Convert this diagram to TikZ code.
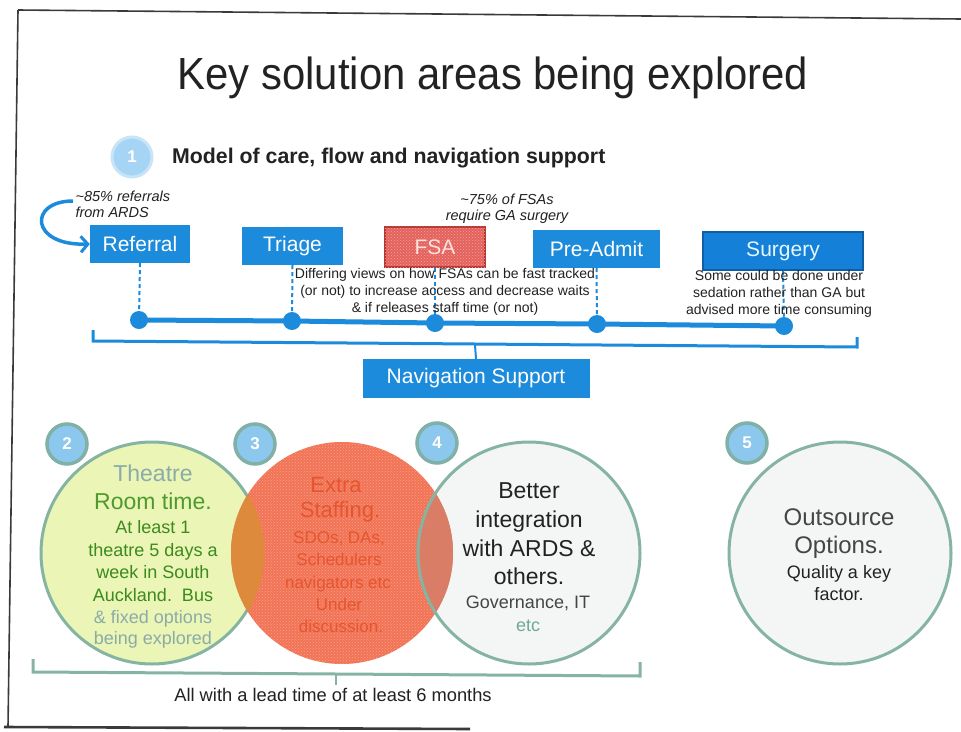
\documentclass[tikz,border=0pt]{standalone}
\usepackage{fontspec}
\setmainfont{Liberation Sans}
\usetikzlibrary{arrows.meta,patterns}

\definecolor{boxblue}{HTML}{1D8BDB}
\definecolor{surgblue}{HTML}{1580D8}
\definecolor{surgrim}{HTML}{0F5EA6}
\definecolor{fsafill}{HTML}{E4625E}
\definecolor{fsarim}{HTML}{B2332E}
\definecolor{fsadots}{HTML}{F3A19A}
\definecolor{fsatext}{HTML}{FDE2DE}
\definecolor{badgeblue}{HTML}{8CC7EE}
\definecolor{badgerim}{HTML}{80B0A6}
\definecolor{onefill}{HTML}{A6D4F4}
\definecolor{onerim}{HTML}{C8E4F7}
\definecolor{rimgreen}{HTML}{86B4A2}
\definecolor{greenfill}{HTML}{EAF5B6}
\definecolor{redfill}{HTML}{F27456}
\definecolor{reddots}{HTML}{F7A08A}
\definecolor{redtext}{HTML}{E5552F}
\definecolor{lensorange}{HTML}{DE8A3C}
\definecolor{lensred}{HTML}{DA7D66}
\definecolor{grayfill}{HTML}{F3F6F4}
\definecolor{tealtext}{HTML}{8AABA8}
\definecolor{roomgreen}{HTML}{4E9A2E}
\definecolor{darkgreen}{HTML}{3D8A1E}
\definecolor{etcteal}{HTML}{6DAA98}
\definecolor{framegray}{HTML}{3A3A3A}
\definecolor{textdark}{HTML}{222222}
\definecolor{textgray}{HTML}{454545}

\newcommand{\fsz}[2]{\fontsize{#1}{#2}\selectfont}

\begin{document}
\begin{tikzpicture}[x=1pt,y=-1pt,
  frameline/.style={draw=framegray, line width=1.6pt},
  bluebox/.style={fill=boxblue, text=white, minimum height=38pt, inner sep=0pt, font=\fsz{21}{25}},
  tldot/.style={circle, fill=boxblue, minimum size=18pt, inner sep=0pt},
  timeline/.style={draw=boxblue, line width=5pt},
  dashlink/.style={draw=boxblue, line width=2pt, dashed, dash pattern=on 4pt off 3pt},
  bracketblue/.style={draw=boxblue, line width=3pt},
  bracketgreen/.style={draw=rimgreen, line width=3pt},
  badge/.style={circle, fill=badgeblue, draw=badgerim, line width=3.5pt, minimum size=40pt, inner sep=0pt, text=white, font=\bfseries\fsz{17}{20}},
  bigcirc/.style={circle, minimum size=222pt, inner sep=0pt, line width=3pt},
  note/.style={align=center, font=\fsz{14}{17}, text=textdark},
  inote/.style={align=left, font=\itshape\fsz{14.5}{16}, text=textdark},
  txtline/.style={anchor=base, inner sep=0pt}
]
\useasboundingbox (0,0) rectangle (961,731);
\fill[white] (0,0) rectangle (961,731);

% page frame
\coordinate (fTL) at (18,10);
\coordinate (fTR) at (961,19);
\coordinate (fBL) at (8,727);
\coordinate (fB1) at (4,727);
\coordinate (fB2) at (470,729);
\draw[frameline] (fTL) -- (fTR);
\draw[frameline] (fTL) -- (fBL);
\draw[draw=framegray, line width=2.6pt] (fB1) -- (fB2);

% headings
\node[anchor=base, inner sep=0pt, font=\fsz{45}{50}, text=textdark] (title) at (493,89) {\scalebox{0.93}[1]{Key solution areas being explored}};
\node[badge, fill=onefill, draw=onerim, line width=3pt] (b1) at (132,157) {1};
\node[anchor=base west, inner sep=0pt, font=\bfseries\fsz{21.3}{25}, text=textdark] (model) at (172,163) {Model of care, flow and navigation support};

% pathway boxes
\node[bluebox, minimum width=100pt] (referral) at (140,244) {Referral};
\node[bluebox, minimum width=101pt] (triage) at (292.5,246) {Triage};
\node[minimum width=100pt, minimum height=40pt, inner sep=0pt, fill=fsafill, draw=fsarim, line width=1.5pt] (fsa) at (435,247) {};
\fill[pattern=crosshatch dots, pattern color=fsadots] (fsa.south west) rectangle (fsa.north east);
\node[text=fsatext, font=\fsz{21}{25}] (fsalabel) at (fsa.center) {FSA};
\node[bluebox, minimum width=127pt] (preadmit) at (596.5,249) {Pre-Admit};
\node[bluebox, minimum width=160pt, fill=surgblue, draw=surgrim, line width=1.5pt, text=white!90!cyan] (surgery) at (783,251) {Surgery};

% referral source arrow
\node[inote, anchor=west] (ards) at (72,204) {\textasciitilde85\% referrals\\from ARDS};
\coordinate (ardsStart) at (73,201);
\draw[draw=boxblue, line width=3.5pt, -{Straight Barb[length=7pt, width=16pt, line width=3pt]}]
  (ardsStart) .. controls (28,201) and (30,246) .. (referral.west);

\node[inote, align=center] (ganote) at (507,209) {\textasciitilde75\% of FSAs\\require GA surgery};

% timeline
\node[tldot] (d1) at (139,320) {};
\node[tldot] (d2) at (292,321) {};
\node[tldot] (d3) at (435,323) {};
\node[tldot] (d4) at (597,324) {};
\node[tldot] (d5) at (784,326) {};
\draw[timeline] (d1.center) -- (d2.center) -- (d3.center) -- (d4.center) -- (d5.center);
\draw[dashlink] (referral.south) -- (d1);
\draw[dashlink] (triage.south) -- (d2);
\draw[dashlink] (fsa.south) -- (d3);
\draw[dashlink] (preadmit.south) -- (d4);
\draw[dashlink] (surgery.south) -- (d5);

\node[note] (fsanote) at (445,292) {Differing views on how FSAs can be fast tracked\\(or not) to increase access and decrease waits\\\& if releases staff time (or not)};
\node[note] (surgnote) at (779,294) {Some could be done under\\sedation rather than GA but\\advised more time consuming};

% navigation bracket
\coordinate (nb1) at (93,330);
\coordinate (nb2) at (93,341);
\coordinate (nb3) at (857,347);
\coordinate (nb4) at (857,337);
\coordinate (nbm) at (475,345);
\draw[bracketblue] (nb1) -- (nb2) -- (nb3) -- (nb4);
\node[bluebox, minimum width=227pt, minimum height=39pt] (nav) at (476,378.5) {Navigation Support};
\draw[draw=boxblue, line width=2pt] (nbm) -- (nav.north);

% solution circles
\node[bigcirc, fill=greenfill, draw=rimgreen] (c2) at (152,553) {};
\node[bigcirc, fill=grayfill] (c4) at (529,553) {};
\node[bigcirc, fill=redfill] (c3) at (342,553) {};
\fill[pattern=crosshatch dots, pattern color=reddots] (c3.center) circle[radius=111pt];
\begin{scope}
  \clip (c2.center) circle[radius=112.5pt];
  \fill[lensorange] (c3.center) circle[radius=111pt];
\end{scope}
\begin{scope}
  \clip (c4.center) circle[radius=111pt];
  \fill[lensred] (c3.center) circle[radius=111pt];
\end{scope}
\draw[draw=rimgreen, line width=3pt] (c4.center) circle[radius=111pt];
\node[bigcirc, fill=grayfill, draw=rimgreen] (c5) at (840,553) {};

% badges
\node[badge] (b2) at (67,444) {2};
\node[badge] (b3) at (255,444) {3};
\node[badge] (b4) at (437,443) {4};
\node[badge] (b5) at (747,443) {5};

% circle 2 text
\node[txtline, font=\fsz{23}{27}, text=tealtext] (t2a) at (153,481) {Theatre};
\node[txtline, font=\fsz{23}{27}, text=roomgreen] (t2b) at (153,509) {Room time.};
\node[txtline, font=\fsz{18}{22}, text=darkgreen] (t2c) at (153,533) {At least 1};
\node[txtline, font=\fsz{18}{22}, text=darkgreen] (t2d) at (153,556) {theatre 5 days a};
\node[txtline, font=\fsz{18}{22}, text=darkgreen] (t2e) at (153,578) {week in South};
\node[txtline, font=\fsz{18}{22}, text=darkgreen] (t2f) at (153,601) {Auckland.\ \ Bus};
\node[txtline, font=\fsz{18}{22}, text=tealtext] (t2g) at (153,623) {\& fixed options};
\node[txtline, font=\fsz{18}{22}, text=tealtext] (t2h) at (153,644) {being explored};

% circle 3 text
\node[txtline, font=\fsz{22}{26}, text=redtext] (t3a) at (336,492) {Extra};
\node[txtline, font=\fsz{22}{26}, text=redtext] (t3b) at (340,517) {Staffing.};
\node[txtline, font=\fsz{17}{21}, text=redtext] (t3c) at (339,543) {SDOs, DAs,};
\node[txtline, font=\fsz{17}{21}, text=redtext] (t3d) at (339,565) {Schedulers};
\node[txtline, font=\fsz{17}{21}, text=redtext] (t3e) at (338,588) {navigators etc};
\node[txtline, font=\fsz{17}{21}, text=redtext] (t3f) at (339,610) {Under};
\node[txtline, font=\fsz{17}{21}, text=redtext] (t3g) at (341,632) {discussion.};

% circle 4 text
\node[txtline, font=\fsz{23}{27}, text=textdark] (t4a) at (529,498) {Better};
\node[txtline, font=\fsz{23}{27}, text=textdark] (t4b) at (529,527) {integration};
\node[txtline, font=\fsz{23}{27}, text=textdark] (t4c) at (529,556) {with ARDS \&};
\node[txtline, font=\fsz{23}{27}, text=textdark] (t4d) at (529,584) {others.};
\node[txtline, font=\fsz{18}{22}, text=textgray] (t4e) at (528,608) {Governance, IT};
\node[txtline, font=\fsz{18}{22}, text=etcteal] (t4f) at (528,631) {etc};

% circle 5 text
\node[txtline, font=\fsz{24}{28}, text=textgray] (t5a) at (839,525) {Outsource};
\node[txtline, font=\fsz{24}{28}, text=textgray] (t5b) at (839,553) {Options.};
\node[txtline, font=\fsz{18}{22}, text=textdark] (t5c) at (839,578) {Quality a key};
\node[txtline, font=\fsz{18}{22}, text=textdark] (t5d) at (839,600) {factor.};

% lead time bracket
\coordinate (lb1) at (33,659);
\coordinate (lb2) at (33,672);
\coordinate (lb3) at (640,676);
\coordinate (lb4) at (640,662);
\coordinate (lbm) at (336,674);
\coordinate (lbt) at (336,685);
\draw[bracketgreen] (lb1) -- (lb2) -- (lb3) -- (lb4);
\draw[draw=rimgreen, line width=2pt] (lbm) -- (lbt);
\node[txtline, font=\fsz{18.3}{22}, text=textdark] (lead) at (333,701) {All with a lead time of at least 6 months};

\end{tikzpicture}
\end{document}
